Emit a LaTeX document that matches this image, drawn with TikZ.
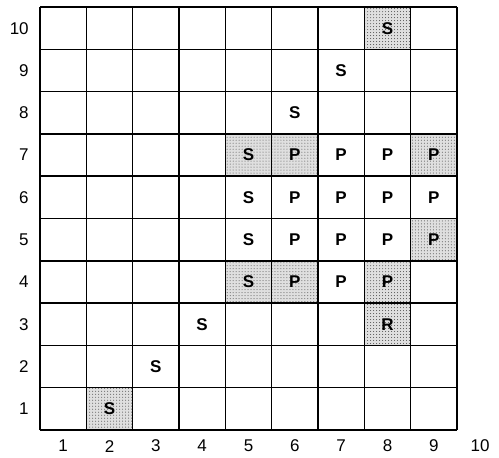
\documentclass[tikz,border=0pt]{standalone}
\usepackage{fontspec}
\setmainfont{Liberation Sans}
\usetikzlibrary{patterns}
\tikzset{
  gridline/.style={black, line width=1.5bp},
  shadedcell/.style={preaction={fill=gray!25}, pattern=dots, pattern color=black!70},
  axislab/.style={font=\fontsize{17bp}{19bp}\selectfont, inner sep=0pt},
  cellmark/.style={font=\fontsize{17bp}{19bp}\selectfont\bfseries, inner sep=0pt}
}

\begin{document}
\begin{tikzpicture}[x=46.33bp, y=42.3bp]
  \useasboundingbox (-0.8634,-0.6383) rectangle (9.907,10.166);
  % shaded cells
  \foreach \c/\r in {8/10, 5/7, 6/7, 9/7, 9/5, 5/4, 6/4, 8/4, 8/3, 2/1}
    \path[shadedcell] (\c-1,\r-1) rectangle (\c,\r);
  % grid
  \foreach \i in {0,...,9}
    \draw[gridline] (\i,0) -- (\i,10);
  \foreach \j in {0,...,10}
    \draw[gridline] (0,\j) -- (9,\j);
  % axis numbers
  \foreach \n in {1,...,10}{
    \node[axislab, anchor=east] (row-\n) at (-0.24,\n-0.5) {\n};
    \node[axislab] (col-\n) at (\n-0.5,-0.38) {\n};}
  % cell letters
  \foreach \c/\r/\t in {8/10/S, 7/9/S, 6/8/S,
      5/7/S, 6/7/P, 7/7/P, 8/7/P, 9/7/P,
      5/6/S, 6/6/P, 7/6/P, 8/6/P, 9/6/P,
      5/5/S, 6/5/P, 7/5/P, 8/5/P, 9/5/P,
      5/4/S, 6/4/P, 7/4/P, 8/4/P,
      4/3/S, 8/3/R, 3/2/S, 2/1/S}
    \node[cellmark] (cell-\c-\r) at (\c-0.5,\r-0.5) {\t};
\end{tikzpicture}
\end{document}
